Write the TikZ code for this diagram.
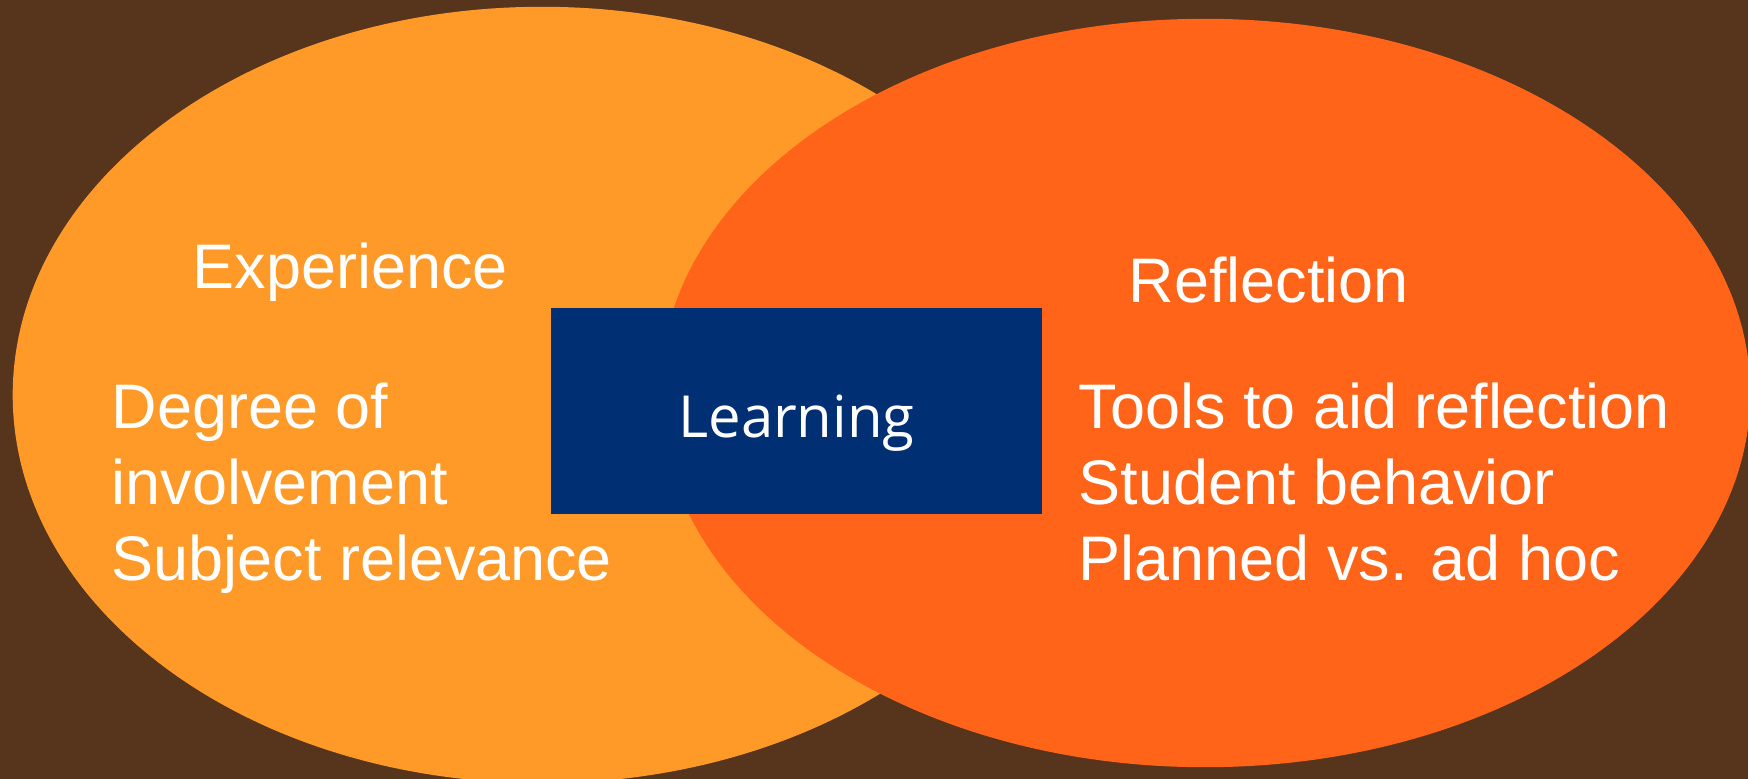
\documentclass[tikz,border=0pt]{standalone}
\usepackage{fontspec}
\setmainfont{Liberation Sans}
\newfontfamily\learnfont{Open Sans}
\definecolor{bgbrown}{HTML}{57341C}
\definecolor{expfill}{HTML}{FF9A28}
\definecolor{reffill}{HTML}{FF6418}
\definecolor{learnblue}{HTML}{002F73}
\tikzset{
  lbl/.style={anchor=base west, inner sep=0pt, text=white, font=\fontsize{17.9pt}{21pt}\selectfont},
  centrebox/.style={fill=learnblue, draw=none, minimum width=4.91cm, minimum height=2.06cm, inner sep=0pt},
}
\begin{document}
\begin{tikzpicture}[x=0.01cm, y=-0.01cm]
  % background
  \fill[bgbrown] (0,0) rectangle (1748,779);
  \useasboundingbox (0,0) rectangle (1748,779);
  % the two overlapping circles
  \fill[expfill] (542,395) ellipse [x radius=5.29cm, y radius=3.88cm];
  \fill[reffill] (1205,393) ellipse [x radius=5.45cm, y radius=3.74cm];
  % centre box
  \node[centrebox] (learnbox) at (796.5,411) {};
  \node[anchor=base, inner sep=0pt, text=white, font=\learnfont\fontsize{16.5pt}{20pt}\selectfont] (learning) at (796.5,437) {Learning};
  % left circle texts
  \node[lbl] (experience) at (192,288) {Experience};
  \node[lbl] (degree) at (111,429) {Degree of};
  \node[lbl] (involvement) at (111,504) {involvement};
  \node[lbl] (subject) at (111,580) {Subject relevance};
  % right circle texts
  \node[lbl] (reflection) at (1128,303) {Reflection};
  \node[lbl] (tools) at (1078,429) {Tools to aid reflection};
  \node[lbl] (student) at (1078,504) {Student behavior};
  \node[lbl] (planned) at (1078,580) {Planned vs. ad hoc};
\end{tikzpicture}
\end{document}
